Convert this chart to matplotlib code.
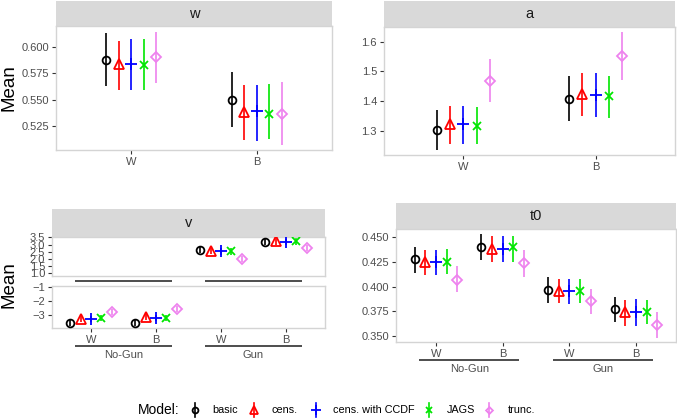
import matplotlib
matplotlib.use("Agg")
import matplotlib.pyplot as plt
from matplotlib.transforms import blended_transform_factory

plt.rcParams['font.family'] = ['Liberation Sans', 'DejaVu Sans']

# ---------------- data ----------------
models = ["basic", "cens.", "cens. with CCDF", "JAGS", "trunc."]
colors = ["black", "red", "blue", "#00E600", "violet"]
markers = ["o", "^", "+", "x", "D"]
msizes = [5.6, 7.0, 9.0, 6.0, 4.6]
filled = [False, False, True, True, False]

w_conds = ["W", "B"]
w_mean = [[0.5878, 0.5836, 0.5842, 0.5830, 0.5904],
          [0.5493, 0.5377, 0.5393, 0.5358, 0.5361]]
w_lo = [[0.5628, 0.5589, 0.5590, 0.5592, 0.5654],
        [0.5234, 0.5112, 0.5103, 0.5118, 0.5060]]
w_hi = [[0.6134, 0.6063, 0.6077, 0.6077, 0.6147],
        [0.5765, 0.5644, 0.5644, 0.5650, 0.5666]]

a_conds = ["W", "B"]
a_mean = [[1.3023, 1.3215, 1.3215, 1.3168, 1.4678],
          [1.4064, 1.4221, 1.4198, 1.4175, 1.5530]]
a_lo = [[1.2362, 1.2554, 1.2554, 1.2554, 1.3973],
        [1.3336, 1.3483, 1.3470, 1.3416, 1.4701]]
a_hi = [[1.3695, 1.3829, 1.3830, 1.3795, 1.5430],
        [1.4836, 1.4946, 1.4936, 1.4846, 1.6312]]

cond4 = ["W", "B", "W", "B"]
groups = ["No-Gun", "Gun"]
v_mean = [[-3.58, -3.30, -3.31, -3.27, -2.82],
          [-3.58, -3.19, -3.24, -3.24, -2.60],
          [2.61, 2.55, 2.52, 2.52, 2.01],
          [3.17, 3.22, 3.17, 3.21, 2.78]]
v_lo = [[-3.80, -3.52, -3.53, -3.49, -3.04],
        [-3.80, -3.41, -3.46, -3.46, -2.82],
        [2.39, 2.33, 2.30, 2.30, 1.79],
        [2.95, 3.00, 2.95, 2.99, 2.56]]
v_hi = [[-3.36, -3.08, -3.09, -3.05, -2.60],
        [-3.36, -2.97, -3.02, -3.02, -2.38],
        [2.83, 2.77, 2.74, 2.74, 2.23],
        [3.39, 3.44, 3.39, 3.43, 3.00]]

t0_mean = [[0.4280, 0.4249, 0.4249, 0.4255, 0.4068],
           [0.4405, 0.4388, 0.4388, 0.4402, 0.4245],
           [0.3966, 0.3953, 0.3953, 0.3956, 0.3851],
           [0.3769, 0.3742, 0.3742, 0.3742, 0.3616]]
t0_lo = [[0.4143, 0.4116, 0.4116, 0.4130, 0.3946],
         [0.4272, 0.4255, 0.4255, 0.4252, 0.4099],
         [0.3837, 0.3831, 0.3823, 0.3831, 0.3721],
         [0.3640, 0.3606, 0.3606, 0.3620, 0.3484]]
t0_hi = [[0.4402, 0.4374, 0.4374, 0.4388, 0.4211],
         [0.4535, 0.4520, 0.4520, 0.4520, 0.4374],
         [0.4096, 0.4075, 0.4075, 0.4075, 0.3973],
         [0.3898, 0.3864, 0.3871, 0.3864, 0.3742]]

# ---------------- layout helpers ----------------
W, H = 677, 420
fig = plt.figure(figsize=(W / 100, H / 100), dpi=100)

BORDER = "#D4D4D4"
STRIP = "#D9D9D9"
TICKC = "#333333"
LABC = "#4D4D4D"


def ax_px(x0, y0, x1, y1):
    return fig.add_axes([x0 / W, 1 - y1 / H, (x1 - x0) / W, (y1 - y0) / H])


def style(ax, xt=True):
    for s in ax.spines.values():
        s.set_color(BORDER)
        s.set_linewidth(1.0)
    ax.tick_params(axis="both", colors=TICKC, labelcolor=LABC, labelsize=8,
                   length=3, width=0.8, pad=2)
    if not xt:
        ax.tick_params(axis="x", length=0, labelbottom=False)


def strip(x0, y0, x1, y1, label):
    s = ax_px(x0, y0, x1, y1)
    s.set_facecolor(STRIP)
    s.set_xticks([])
    s.set_yticks([])
    for sp in s.spines.values():
        sp.set_visible(False)
    s.text(0.5, 0.5, label, ha="center", va="center", fontsize=10.5,
           color="#1A1A1A", transform=s.transAxes)


def draw(ax, mean, lo, hi, dodge):
    for ci in range(len(mean)):
        for mi in range(len(models)):
            x = ci + 1 + (mi - 2) * dodge
            ax.vlines(x, lo[ci][mi], hi[ci][mi], color=colors[mi], lw=1.2,
                      zorder=2)
            ax.plot([x], [mean[ci][mi]], linestyle="none", marker=markers[mi],
                    ms=msizes[mi], mew=1.3, color=colors[mi],
                    mfc=colors[mi] if filled[mi] else "none", zorder=3)


def nested(ax, ypx_line, ypx_text=None):
    tr = blended_transform_factory(ax.transData, fig.transFigure)
    for gi, g in enumerate(groups):
        xa = gi * 2 + 1 - 0.25
        xb = gi * 2 + 2 + 0.25
        ax.plot([xa, xb], [1 - ypx_line / H] * 2, color="#4D4D4D", lw=1.4,
                transform=tr, clip_on=False, solid_capstyle="butt")
        if ypx_text is not None:
            ax.text(gi * 2 + 1.5, 1 - ypx_text / H, g, transform=tr,
                    ha="center", va="center", fontsize=8, color=LABC)


# ---------------- panel w ----------------
strip(56, 1, 332, 26, "w")
axw = ax_px(56, 26, 332, 150)
draw(axw, w_mean, w_lo, w_hi, 0.1)
axw.set_xlim(0.4, 2.6)
axw.set_ylim(0.5016, 0.6205)
axw.set_xticks([1, 2], w_conds)
axw.set_yticks([0.525, 0.550, 0.575, 0.600],
               ["0.525", "0.550", "0.575", "0.600"])
style(axw)

# ---------------- panel a ----------------
strip(384, 1, 675, 27, "a")
axa = ax_px(384, 27, 675, 155)
draw(axa, a_mean, a_lo, a_hi, 0.1)
axa.set_xlim(0.4, 2.6)
axa.set_ylim(1.2185, 1.649)
axa.set_xticks([1, 2], a_conds)
axa.set_yticks([1.3, 1.4, 1.5, 1.6], ["1.3", "1.4", "1.5", "1.6"])
style(axa)

# ---------------- panel v ----------------
strip(52, 209, 325, 237, "v")
axvu = ax_px(52, 237, 325, 276)
axvl = ax_px(52, 286, 325, 328)
for axv in (axvu, axvl):
    draw(axv, v_mean, v_lo, v_hi, 0.16)
    axv.set_xlim(0.4, 4.6)
axvu.set_ylim(0.82, 3.52)
axvl.set_ylim(-3.97, -0.905)
axvu.set_yticks([1.0, 1.5, 2.0, 2.5, 3.0, 3.5],
                ["1.0", "1.5", "2.0", "2.5", "3.0", "3.5"])
axvl.set_yticks([-3, -2, -1], ["\u22123", "\u22122", "\u22121"])
axvl.set_xticks([1, 2, 3, 4], cond4)
style(axvu, xt=False)
style(axvl)
nested(axvu, 281)
nested(axvl, 345.7, 355)

# ---------------- panel t0 ----------------
strip(396, 203, 676, 229, "t0")
axt = ax_px(396, 229, 676, 342)
draw(axt, t0_mean, t0_lo, t0_hi, 0.16)
axt.set_xlim(0.4, 4.6)
axt.set_ylim(0.3439, 0.4586)
axt.set_xticks([1, 2, 3, 4], cond4)
axt.set_yticks([0.350, 0.375, 0.400, 0.425, 0.450],
               ["0.350", "0.375", "0.400", "0.425", "0.450"])
style(axt)
nested(axt, 360, 369.3)

# ---------------- y labels ----------------
fig.text(9 / W, 1 - 88 / H, "Mean", rotation=90, ha="center", va="center",
         fontsize=13.5, color="black")
fig.text(9 / W, 1 - 285 / H, "Mean", rotation=90, ha="center", va="center",
         fontsize=13.5, color="black")

# ---------------- legend ----------------
lg = fig.add_axes([0, 0, 1, 1])
lg.set_xlim(0, W)
lg.set_ylim(H, 0)
lg.axis("off")
ly = 410
fig.text(138 / W, 1 - ly / H, "Model:", ha="left", va="center", fontsize=10)
key_x = [195, 254, 316, 429, 489]
txt_x = [212, 272, 333, 447, 508]
for mi, m in enumerate(models):
    kx = key_x[mi]
    lg.plot([kx, kx], [ly - 7, ly + 7], color=colors[mi], lw=1.2)
    lg.plot([kx], [ly], linestyle="none", marker=markers[mi],
            ms=msizes[mi] * 0.75, mew=1.3, color=colors[mi],
            mfc=colors[mi] if filled[mi] else "none")
    fig.text(txt_x[mi] / W, 1 - ly / H, m, ha="left", va="center",
             fontsize=7.8)

fig.savefig("out.png", dpi=100)
